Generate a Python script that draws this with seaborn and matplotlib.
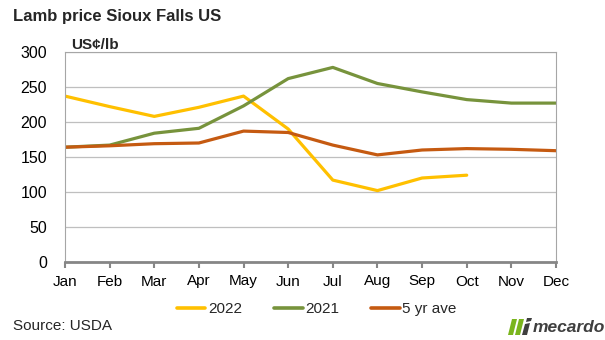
import matplotlib
matplotlib.use("Agg")
import matplotlib.pyplot as plt
import seaborn as sns
import pandas as pd
from matplotlib.patches import Polygon
from matplotlib.lines import Line2D

months = ["Jan", "Feb", "Mar", "Apr", "May", "Jun", "Jul", "Aug", "Sep", "Oct", "Nov", "Dec"]
y2022 = [237, 222, 208, 221, 237, 190, 117, 102, 120, 124, None, None]
y2021 = [164, 167, 184, 191, 223, 262, 278, 255, 243, 232, 227, 227]
five_yr = [164, 166, 169, 170, 187, 185, 167, 153, 160, 162, 161, 159]
series_names = ["2022", "2021", "5 yr ave"]
colors = ["#FFC000", "#77933C", "#C55A11"]
yticks = [0, 50, 100, 150, 200, 250, 300]

rows = []
for name, vals in zip(series_names, [y2022, y2021, five_yr]):
    for i, v in enumerate(vals):
        if v is not None:
            rows.append({"month": i, "value": v, "series": name})
df = pd.DataFrame(rows)

sns.set_theme(style="white")
plt.rcParams["font.family"] = ["Liberation Sans", "DejaVu Sans"]

fig = plt.figure(figsize=(6.05, 3.40), dpi=100)
ax = fig.add_axes([65/605, 1-262/340, (556-65)/605, (262-52)/340])

sns.lineplot(data=df, x="month", y="value", hue="series", hue_order=series_names,
             palette=colors, linewidth=2.3, ax=ax, legend=False, sort=True)

ax.set_xlim(0, 11)
ax.set_ylim(0, 300)
ax.set_yticks(yticks)
ax.set_yticklabels([str(t) for t in yticks], fontsize=11.5, color="black")
ax.set_xticks(range(12))
ax.set_xticklabels(months, fontsize=11, color="black")
ax.set_xlabel("")
ax.set_ylabel("")
ax.yaxis.grid(True, color="#BFBFBF", linewidth=0.9)
ax.set_axisbelow(True)
for s in ["top", "right", "left"]:
    ax.spines[s].set_visible(True)
    ax.spines[s].set_color("#A6A6A6")
    ax.spines[s].set_linewidth(0.8)
ax.spines["bottom"].set_color("#868686")
ax.spines["bottom"].set_linewidth(2.0)
ax.tick_params(axis="x", which="both", bottom=True, length=4, width=1.5, color="#868686", pad=5)
ax.tick_params(axis="y", which="both", left=False, length=0, pad=13)

handles = [Line2D([0], [0], color=c, lw=2.6) for c in colors]
fig.legend(handles, series_names, loc="center", bbox_to_anchor=(0.524, 1-309/340), ncol=3,
           frameon=False, fontsize=11, handlelength=1.85, handletextpad=0.18, columnspacing=2.1)

fig.text(13/605, 1-17/340, "Lamb price Sioux Falls US", fontsize=12, fontweight="bold",
         ha="left", va="center")
fig.text(71/605, 1-45/340, "US¢/lb", fontsize=11, fontweight="bold", ha="left", va="center")
fig.text(13/605, 1-326/340, "Source: USDA", fontsize=11, ha="left", va="center")

def px(x, y):
    return (x/605, 1-y/340)
greens = [[(508, 335), (512, 319), (517, 319), (513, 335)],
          [(515, 335), (519, 319), (524, 319), (520, 335)]]
grays = [[(522, 335), (525, 324), (530, 323), (527, 335)],
         [(526, 322), (527, 318), (532, 318), (531, 321)]]
for poly in greens:
    fig.patches.append(Polygon([px(*p) for p in poly], closed=True, transform=fig.transFigure,
                               facecolor="#7AB51D", edgecolor="none"))
for poly in grays:
    fig.patches.append(Polygon([px(*p) for p in poly], closed=True, transform=fig.transFigure,
                               facecolor="#3F3F3F", edgecolor="none"))
fig.text(533/605, 1-327/340, "mecardo", fontsize=12.5, fontweight="bold", fontstyle="italic",
         color="#3F3F3F", ha="left", va="center")

fig.savefig("out.png", dpi=100)
